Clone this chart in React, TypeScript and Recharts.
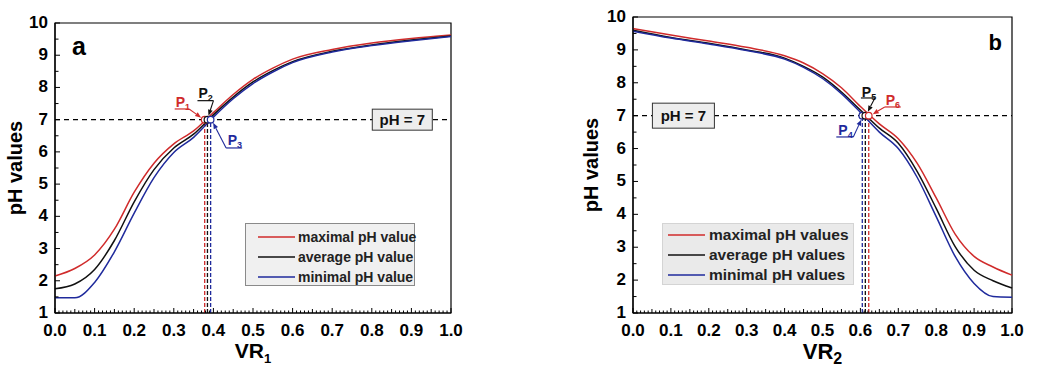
import React from 'react';
import {
  LineChart,
  Line,
  XAxis,
  YAxis,
  ReferenceLine,
  ReferenceArea,
  ReferenceDot,
  Legend,
} from 'recharts';

// panel a: pH vs VR1
const vrA = [0, 0.05, 0.1, 0.15, 0.2, 0.25, 0.3, 0.35, 0.4, 0.45, 0.5, 0.55, 0.6, 0.7, 0.8, 0.9, 1.0];
const maxA = [2.15, 2.38, 2.8, 3.6, 4.75, 5.65, 6.25, 6.65, 7.22, 7.78, 8.25, 8.6, 8.88, 9.18, 9.38, 9.52, 9.63];
const avgA = [1.75, 1.9, 2.35, 3.25, 4.45, 5.45, 6.12, 6.55, 7.15, 7.7, 8.17, 8.52, 8.8, 9.12, 9.32, 9.47, 9.6];
const minA = [1.47, 1.47, 1.95, 2.9, 4.1, 5.2, 5.98, 6.45, 7.08, 7.65, 8.12, 8.48, 8.77, 9.1, 9.3, 9.45, 9.58];

// panel b: pH vs VR2
const vrB = [0, 0.1, 0.2, 0.3, 0.4, 0.45, 0.5, 0.55, 0.6, 0.65, 0.7, 0.75, 0.8, 0.85, 0.9, 0.95, 1.0];
const maxB = [9.65, 9.45, 9.27, 9.08, 8.82, 8.6, 8.28, 7.85, 7.28, 6.75, 6.3, 5.55, 4.5, 3.4, 2.72, 2.4, 2.15];
const avgB = [9.6, 9.38, 9.2, 9.0, 8.75, 8.5, 8.18, 7.72, 7.17, 6.62, 6.16, 5.3, 4.18, 3.02, 2.3, 1.98, 1.76];
const minB = [9.57, 9.36, 9.18, 8.98, 8.72, 8.47, 8.13, 7.67, 7.1, 6.5, 6.0, 5.12, 3.93, 2.72, 1.9, 1.5, 1.48];

// crossing points with pH = 7
const crossA = [0.378, 0.385, 0.393]; // P1 max, P2 avg, P3 min
const crossB = [0.605, 0.613, 0.622]; // P4 min, P5 avg, P6 max

const namesA = ['maximal pH value', 'average pH value', 'minimal pH value'];
const namesB = ['maximal pH values', 'average pH values', 'minimal pH values'];

const xTicks = Array.from({ length: 101 }, (_, i) => i / 100);
const yTicks = Array.from({ length: 19 }, (_, i) => 1 + i / 2);

const RED = '#d02b2b';
const BLACK = '#111111';
const BLUE = '#1f2a9c';
const FONT = '"Liberation Sans", Arial, sans-serif';

const dataA = vrA.map((x, i) => ({ x, max: maxA[i], avg: avgA[i], min: minA[i] }));
const dataB = vrB.map((x, i) => ({ x, max: maxB[i], avg: avgB[i], min: minB[i] }));

const XTick = (props: any) => {
  const { x, y, payload } = props;
  const k = Math.round(payload.value * 100);
  const major = k % 10 === 0;
  const len = major ? 5 : k % 5 === 0 ? 4 : 2.5;
  return (
    <g>
      <line x1={x} x2={x} y1={y} y2={y - len} stroke="#000" strokeWidth={1} />
      {major && (
        <text x={x} y={y + 23} textAnchor="middle" fontSize={17} fontWeight="bold" fontFamily={FONT} fill="#000">
          {(k / 100).toFixed(1)}
        </text>
      )}
    </g>
  );
};

const YTick = (props: any) => {
  const { x, y, payload } = props;
  const v = payload.value;
  const major = Number.isInteger(v);
  return (
    <g>
      <line x1={x} x2={x + (major ? 5 : 3.5)} y1={y} y2={y} stroke="#000" strokeWidth={1} />
      {major && (
        <text x={x - 7} y={y + 5} textAnchor="end" fontSize={17} fontWeight="bold" fontFamily={FONT} fill="#000">
          {v}
        </text>
      )}
    </g>
  );
};

const arrow = (x1: number, y1: number, x2: number, y2: number, color: string) => {
  const a = Math.atan2(y2 - y1, x2 - x1);
  const L = 6;
  const W = 2.4;
  const bx = x2 - L * Math.cos(a);
  const by = y2 - L * Math.sin(a);
  const px = -Math.sin(a) * W;
  const py = Math.cos(a) * W;
  return (
    <g>
      <line x1={x1} y1={y1} x2={bx} y2={by} stroke={color} strokeWidth={1.1} />
      <polygon points={`${x2},${y2} ${bx + px},${by + py} ${bx - px},${by - py}`} fill={color} />
    </g>
  );
};

// circle + underlined label + arrow, offsets in px from the crossing point
const pointMark = (num: number, color: string, tx: number, ty: number, ux1: number, ux2: number, uy: number, ax: number, ay: number, ex: number, ey: number) =>
  (props: any) => {
    const { cx, cy } = props;
    return (
      <g>
        <circle cx={cx} cy={cy} r={3.3} fill="#fff" stroke={color} strokeWidth={1.2} />
        <text x={cx + tx} y={cy + ty} fontSize={14} fontWeight="bold" fontFamily={FONT} fill={color}>
          P
          <tspan fontSize={9} dy={3}>{num}</tspan>
        </text>
        <line x1={cx + ux1} x2={cx + ux2} y1={cy + uy} y2={cy + uy} stroke={color} strokeWidth={1.2} />
        {arrow(cx + ax, cy + ay, cx + ex, cy + ey, color)}
      </g>
    );
  };

const phBox = (w: number, h: number) => (props: any) => {
  const { cx, cy } = props;
  return (
    <g>
      <rect x={cx - w / 2} y={cy - h / 2} width={w} height={h} fill="#ededed" stroke="#333" strokeWidth={1} />
      <text x={cx} y={cy + 5.5} textAnchor="middle" fontSize={15} fontWeight="bold" fontFamily={FONT} fill="#111">
        pH = 7
      </text>
    </g>
  );
};

const panelLetter = (s: string, size: number) => (props: any) => (
  <text x={props.cx} y={props.cy} fontSize={size} fontWeight="bold" fontFamily={FONT} fill="#000">
    {s}
  </text>
);

const legendContent = (
  names: string[],
  w: number,
  h: number,
  fs: number,
  bg: string,
  border: string,
  padLeft: number,
  padTop: number,
  gap: number,
) => (props: any) => {
  const items = [...(props.payload || [])].sort((p: any, q: any) => names.indexOf(p.value) - names.indexOf(q.value));
  return (
    <div
      style={{
        width: w,
        height: h,
        boxSizing: 'border-box',
        background: bg,
        border: `1px solid ${border}`,
        paddingTop: padTop,
        paddingLeft: padLeft,
        fontFamily: FONT,
        fontWeight: 'bold',
        fontSize: fs,
        color: '#222',
        whiteSpace: 'nowrap',
      }}
    >
      {items.map((e: any) => (
        <div key={e.value} style={{ display: 'flex', alignItems: 'center', height: 20 }}>
          <svg width={37} height={4} style={{ marginRight: gap, flexShrink: 0 }}>
            <line x1={0} x2={37} y1={2} y2={2} stroke={e.color} strokeWidth={1.6} />
          </svg>
          <span>{e.value}</span>
        </div>
      ))}
    </div>
  );
};

const yLabel = (x: number) => (props: any) => {
  const vb = props.viewBox;
  const cy = vb.y + vb.height / 2;
  return (
    <text x={x} y={cy} transform={`rotate(-90, ${x}, ${cy})`} textAnchor="middle" fontSize={20} fontWeight="bold" fontFamily={FONT} fill="#000">
      pH values
    </text>
  );
};

const xLabel = (sub: string, dy: number, fs: number, subSize: number) => (props: any) => {
  const vb = props.viewBox;
  return (
    <text x={vb.x + vb.width / 2} y={vb.y + dy} textAnchor="middle" fontSize={fs} fontWeight="bold" fontFamily={FONT} fill="#000">
      VR
      <tspan fontSize={subSize} dy={5}>{sub}</tspan>
    </text>
  );
};

const lineProps = { type: 'monotone' as const, dot: false, strokeWidth: 1.5, isAnimationActive: false };

const App = () => {
  return (
    <div style={{ position: 'absolute', left: 0, top: 0, width: 1044, height: 370, background: '#fff' }}>
      <div style={{ position: 'absolute', left: 0, top: 0 }}>
        <LineChart width={520} height={370} data={dataA} margin={{ top: 23, right: 69, bottom: 0, left: 0 }}>
          <XAxis
            dataKey="x"
            type="number"
            domain={[0, 1]}
            ticks={xTicks}
            interval={0}
            tickLine={false}
            tickSize={0}
            tickMargin={0}
            tick={XTick}
            height={57}
            axisLine={{ stroke: '#000', strokeWidth: 1.2 }}
            label={xLabel('1', 45, 21, 13)}
          />
          <YAxis
            type="number"
            domain={[1, 10]}
            ticks={yTicks}
            interval={0}
            tickLine={false}
            tickSize={0}
            tickMargin={0}
            tick={YTick}
            width={55}
            axisLine={{ stroke: '#000', strokeWidth: 1.2 }}
            label={yLabel(22)}
          />
          <ReferenceArea x1={0} x2={1} y1={1} y2={10} fill="none" stroke="#000" strokeWidth={1.2} />
          <ReferenceLine y={7} stroke="#000" strokeWidth={1.2} strokeDasharray="5 4" />
          <ReferenceLine segment={[{ x: crossA[0], y: 1 }, { x: crossA[0], y: 7 }]} stroke={RED} strokeWidth={1.3} strokeDasharray="4 2" />
          <ReferenceLine segment={[{ x: crossA[1], y: 1 }, { x: crossA[1], y: 7 }]} stroke={BLACK} strokeWidth={1.3} strokeDasharray="4 2" />
          <ReferenceLine segment={[{ x: crossA[2], y: 1 }, { x: crossA[2], y: 7 }]} stroke={BLUE} strokeWidth={1.3} strokeDasharray="4 2" />
          <Line {...lineProps} dataKey="max" name={namesA[0]} stroke={RED} />
          <Line {...lineProps} dataKey="avg" name={namesA[1]} stroke={BLACK} />
          <Line {...lineProps} dataKey="min" name={namesA[2]} stroke={BLUE} />
          <ReferenceDot x={0.877} y={7} shape={phBox(60, 21)} />
          <ReferenceDot x={0.043} y={9.0} shape={panelLetter('a', 25)} />
          <ReferenceDot x={crossA[0]} y={7} shape={pointMark(1, RED, -29, -12.5, -30, -15.6, -10.7, -15.6, -10.7, -3.5, -2)} />
          <ReferenceDot x={crossA[1]} y={7} shape={pointMark(2, BLACK, -9, -22, -10, 6, -19, 6, -19, 1, -4)} />
          <ReferenceDot x={crossA[2]} y={7} shape={pointMark(3, BLUE, 17, 25, 15.5, 31.5, 28.3, 15.5, 28.3, 2.5, 3.2)} />
          <Legend
            verticalAlign="middle"
            align="center"
            layout="horizontal"
            wrapperStyle={{ left: 245, top: 223, width: 170, height: 63 }}
            content={legendContent(namesA, 170, 63, 14, '#f0f0f0', '#8a8a8a', 12, 3, 3)}
          />
        </LineChart>
      </div>
      <div style={{ position: 'absolute', left: 520, top: 0 }}>
        <LineChart width={524} height={370} data={dataB} margin={{ top: 17, right: 32, bottom: 0, left: 0 }}>
          <XAxis
            dataKey="x"
            type="number"
            domain={[0, 1]}
            ticks={xTicks}
            interval={0}
            tickLine={false}
            tickSize={0}
            tickMargin={0}
            tick={XTick}
            height={57}
            axisLine={{ stroke: '#000', strokeWidth: 1.2 }}
            label={xLabel('2', 46, 22, 16)}
          />
          <YAxis
            type="number"
            domain={[1, 10]}
            ticks={yTicks}
            interval={0}
            tickLine={false}
            tickSize={0}
            tickMargin={0}
            tick={YTick}
            width={113}
            axisLine={{ stroke: '#000', strokeWidth: 1.2 }}
            label={yLabel(78)}
          />
          <ReferenceArea x1={0} x2={1} y1={1} y2={10} fill="none" stroke="#000" strokeWidth={1.2} />
          <ReferenceLine y={7} stroke="#000" strokeWidth={1.2} strokeDasharray="5 4" />
          <ReferenceLine segment={[{ x: crossB[0], y: 1 }, { x: crossB[0], y: 7 }]} stroke={BLUE} strokeWidth={1.3} strokeDasharray="4 2" />
          <ReferenceLine segment={[{ x: crossB[1], y: 1 }, { x: crossB[1], y: 7 }]} stroke={BLACK} strokeWidth={1.3} strokeDasharray="4 2" />
          <ReferenceLine segment={[{ x: crossB[2], y: 1 }, { x: crossB[2], y: 7 }]} stroke={RED} strokeWidth={1.3} strokeDasharray="4 2" />
          <Line {...lineProps} dataKey="max" name={namesB[0]} stroke={RED} />
          <Line {...lineProps} dataKey="avg" name={namesB[1]} stroke={BLACK} />
          <Line {...lineProps} dataKey="min" name={namesB[2]} stroke={BLUE} />
          <ReferenceDot x={0.133} y={7} shape={phBox(62, 25)} />
          <ReferenceDot x={0.938} y={9.0} shape={panelLetter('b', 22)} />
          <ReferenceDot x={crossB[0]} y={7} shape={pointMark(4, BLUE, -24, 19, -26, -9, 21.3, -9, 21.3, -1, 4)} />
          <ReferenceDot x={crossB[1]} y={7} shape={pointMark(5, BLACK, -3.5, -19, -4.4, 9.6, -17.7, 9.6, -17.7, 2.5, -4)} />
          <ReferenceDot x={crossB[2]} y={7} shape={pointMark(6, RED, 17, -11, 16, 32, -8.7, 16, -8.7, 4, -1.5)} />
          <Legend
            verticalAlign="middle"
            align="center"
            layout="horizontal"
            wrapperStyle={{ left: 142, top: 223, width: 192, height: 62 }}
            content={legendContent(namesB, 192, 62, 15.5, '#eaeaea', '#d4d4d4', 5, 1, 4)}
          />
        </LineChart>
      </div>
    </div>
  );
};

export default App;
